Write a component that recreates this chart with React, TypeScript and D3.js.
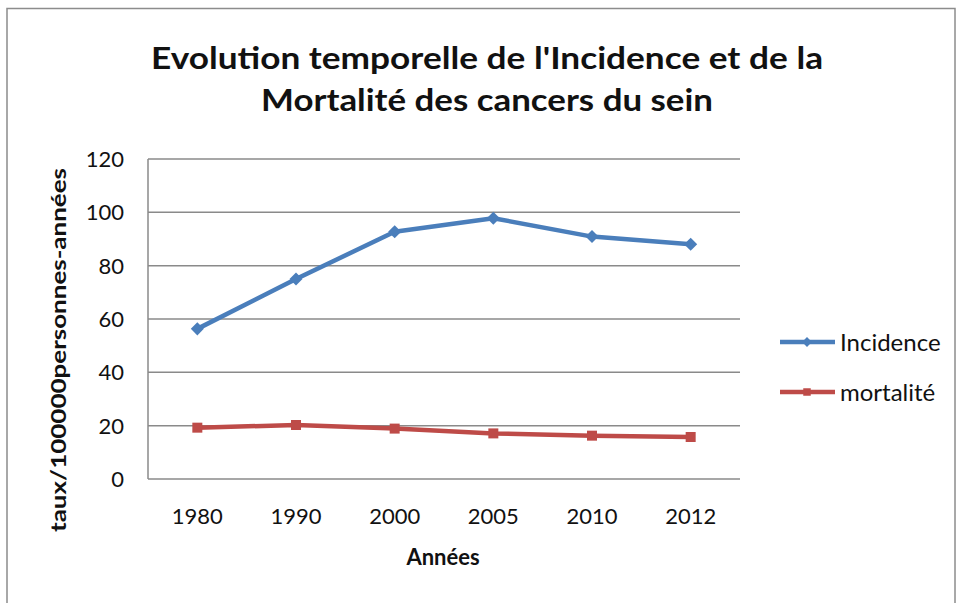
import React from "react";
import * as d3 from "d3";

const years = ["1980", "1990", "2000", "2005", "2010", "2012"];
const incidence = [56.3, 75, 92.7, 97.8, 90.9, 88];
const mortalite = [19.25, 20.25, 18.9, 17.1, 16.25, 15.75];
const yTicks = [0, 20, 40, 60, 80, 100, 120];
const seriesNames = ["Incidence", "mortalité"];
const titleLines = ["Evolution temporelle de l'Incidence et de la", "Mortalité des cancers du sein"];
const yLabel = "taux/100000personnes-années";
const xLabel = "Années";

const W = 958, H = 603;
const plot = { left: 148, right: 740, top: 159, bottom: 479 };
const FONT = "Lato, 'Open Sans', sans-serif";
const BLUE = "#4a7ebb";
const RED = "#be4b48";

export default function App() {
  const x = d3.scalePoint<string>().domain(years).range([plot.left, plot.right]).padding(0.5);
  const y = d3.scaleLinear().domain([0, 120]).range([plot.bottom, plot.top]);
  const line = d3.line<number>().x((_, i) => x(years[i])!).y((d) => y(d));
  const square = d3.symbol().type(d3.symbolSquare).size(100)()!;
  const diamondSq = d3.symbol().type(d3.symbolSquare).size(85)()!;
  const series = [
    { name: seriesNames[0], data: incidence, color: BLUE, marker: diamondSq, rot: 45 },
    { name: seriesNames[1], data: mortalite, color: RED, marker: square, rot: 0 },
  ];
  return (
    <svg width={W} height={H} style={{ position: "absolute", left: 0, top: 0, background: "#fff" }} fontFamily={FONT}>
      <rect x={7} y={8.5} width={W - 10} height={H + 10} fill="#fff" stroke="#8c8c8c" strokeWidth={1.5} />
      {titleLines.map((t, i) => (
        <text key={i} x={487} y={69 + i * 42} textAnchor="middle" fontSize={31} fontWeight="bold" fill="#111"
          textLength={i === 0 ? 672 : 452} lengthAdjust="spacingAndGlyphs">{t}</text>
      ))}
      {yTicks.map((t) => (
        <g key={t}>
          {t > 0 && <line x1={plot.left} x2={plot.right} y1={y(t)} y2={y(t)} stroke="#8a8a8a" strokeWidth={1.5} />}
          <text x={124} y={y(t) + 8} textAnchor="end" fontSize={22} fill="#111">{t}</text>
        </g>
      ))}
      <line x1={plot.left} x2={plot.left} y1={plot.top} y2={plot.bottom} stroke="#8a8a8a" strokeWidth={1.5} />
      <line x1={plot.left} x2={plot.right} y1={plot.bottom} y2={plot.bottom} stroke="#8a8a8a" strokeWidth={1.5} />
      {years.map((yr) => (
        <text key={yr} x={x(yr)} y={524} textAnchor="middle" fontSize={22} fill="#111">{yr}</text>
      ))}
      <text x={443} y={565} textAnchor="middle" fontSize={22} fontWeight="bold" fill="#111">{xLabel}</text>
      <text transform="translate(66,350) rotate(-90)" textAnchor="middle" fontSize={20} fontWeight="bold" fill="#111"
        textLength={364} lengthAdjust="spacingAndGlyphs">{yLabel}</text>
      {series.map((s) => (
        <g key={s.name}>
          <path d={line(s.data)!} fill="none" stroke={s.color} strokeWidth={4.5} strokeLinejoin="round" />
          {s.data.map((v, i) => (
            <path key={i} d={s.marker} transform={`translate(${x(years[i])},${y(v)}) rotate(${s.rot})`} fill={s.color} />
          ))}
        </g>
      ))}
      {series.map((s, i) => {
        const ly = 342 + i * 50;
        return (
          <g key={s.name}>
            <line x1={780} x2={835} y1={ly} y2={ly} stroke={s.color} strokeWidth={4.5} />
            <path d={s.marker} transform={`translate(807,${ly}) rotate(${s.rot}) scale(0.75)`} fill={s.color} />
            <text x={840} y={ly + 8.5} fontSize={24} fill="#111">{s.name}</text>
          </g>
        );
      })}
    </svg>
  );
}
